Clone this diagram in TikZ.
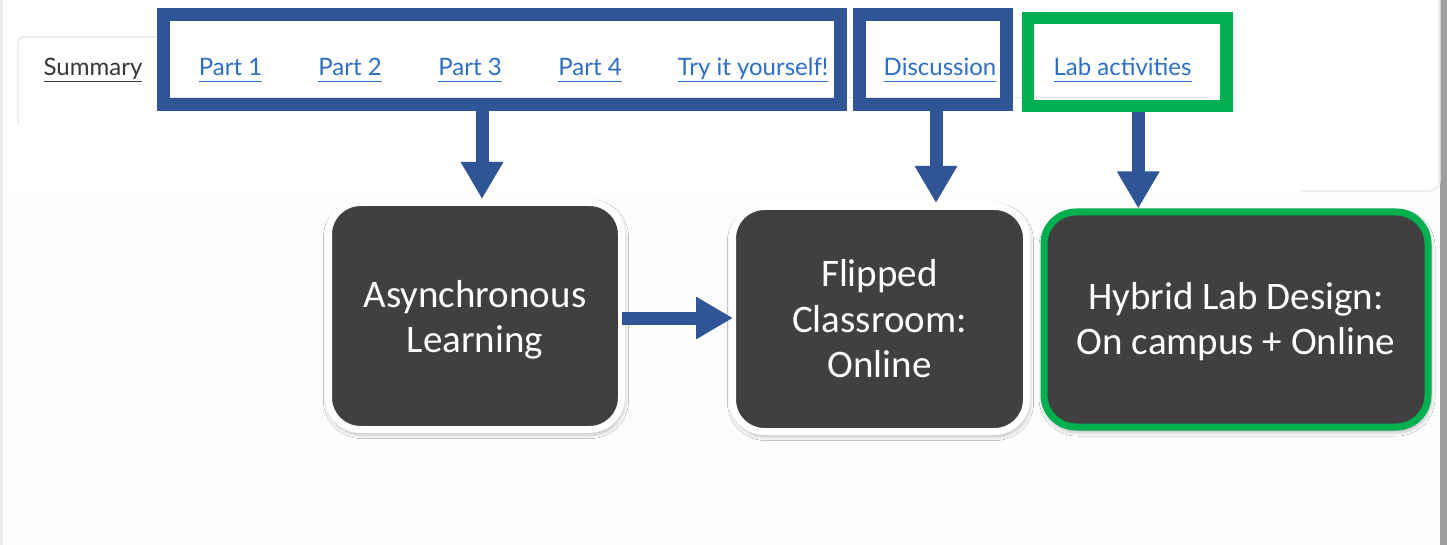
\documentclass[tikz,border=0pt]{standalone}
\usepackage{fontspec}
\setmainfont{Carlito}
\newfontfamily\latofont{Lato}
\usetikzlibrary{arrows.meta,calc,shadows.blur}
\definecolor{pblue}{RGB}{47,85,151}
\definecolor{pgreen}{RGB}{0,176,80}
\definecolor{boxdark}{RGB}{64,64,64}
\definecolor{linkblue}{RGB}{45,110,200}
\definecolor{tabgrey}{RGB}{226,229,232}
\tikzset{
  linkbox/.style={draw=pblue, line width=13pt, minimum width=#1, minimum height=89.5pt, inner sep=0pt},
  labbox/.style={draw=pgreen, line width=12.5pt, minimum width=#1, minimum height=88pt, inner sep=0pt},
  darkbox/.style={draw=white, fill=boxdark, line width=7pt, rounded corners=32pt, inner sep=0pt,
    blur shadow={shadow xshift=1pt, shadow yshift=-3pt, shadow blur radius=6pt, shadow blur steps=10, shadow opacity=45}},
  greenbox/.style={darkbox, draw=pgreen},
  boxtext/.style={text=white, align=center, font=\fontsize{39}{45.5}\selectfont, inner sep=0pt},
  arr/.style={draw=pblue, line width=13pt, -{Triangle[width=40pt,length=37pt]}},
  lnk/.style={anchor=base, text=linkblue, font=\latofont\fontsize{24}{28}\selectfont, inner sep=0pt},
}
\newcommand{\ul}[1]{\underline{\smash{#1}\vphantom{y}}}
\begin{document}
\begin{tikzpicture}[x=1pt,y=-1pt]
\useasboundingbox (0,0) rectangle (1447,545);
% page background
\fill[white!92!black] (0,0) rectangle (1447,545);
\fill[white!99.4!black] (3,0) rectangle (1440,545);
\fill[white!62!black] (1440,0) rectangle (1447,545);
% white card with soft edge at the right
\fill[white!94!black] (1300,0) -- (1440.5,0) -- (1440.5,182) arc[start angle=0, end angle=90, radius=10] -- (1300,192) -- cycle;
\fill[white] (8,-2) -- (1438,-2) -- (1438,180) arc[start angle=0, end angle=90, radius=10] -- (8,190) -- cycle;
% tab outline
\draw[tabgrey, line width=1.2pt, rounded corners=5pt] (18,124) -- (18,37) -- (160,37);
\draw[tabgrey, line width=1pt] (160,98) -- (1210,98);
% tab labels
\node[lnk, text=black!78] (summary) at (93,76) {\ul{Summary}};
\node[lnk] (p1) at (230.5,76) {\ul{Part 1}};
\node[lnk] (p2) at (350,76) {\ul{Part 2}};
\node[lnk] (p3) at (470,76) {\ul{Part 3}};
\node[lnk] (p4) at (590,76) {\ul{Part 4}};
\node[lnk] (try) at (753,76) {\ul{Try it yourself!}};
\node[lnk] (disc) at (940,76) {\ul{Discussion}};
\node[lnk] (lab) at (1122.5,76) {\ul{Lab activities}};
% highlight frames
\node[linkbox=676.5pt] (parts) at (501.75,59.75) {};
\node[linkbox=147pt] (discbox) at (932.5,59.75) {};
\node[labbox=198.5pt] (labbox) at (1127.25,62) {};
% dark boxes
\node[darkbox, minimum width=293pt, minimum height=227pt] (asyn) at (475,316) {};
\node[darkbox, minimum width=294pt, minimum height=225pt] (flip) at (879.5,319) {};
\node[greenbox, minimum width=384pt, minimum height=215pt] (hyb) at (1236,319.5) {};
\node[boxtext] (asyn-t) at ([yshift=-4pt]asyn.center) {Asynchronous\\Learning};
\node[boxtext] (flip-t) at (flip.center) {Flipped\\Classroom:\\Online};
\node[boxtext] (hyb-t) at ([yshift=-2pt]hyb.center) {Hybrid Lab Design:\\On campus + Online};
% arrows
\draw[arr] ([xshift=7pt]asyn.north |- parts.south) -- ([xshift=7pt]asyn.north);
\draw[arr] ([xshift=3.5pt]discbox.south) -- ([xshift=3.5pt]discbox.south |- flip.north);
\draw[arr] ([xshift=11pt]labbox.south) -- ([xshift=11pt]labbox.south |- hyb.north);
\draw[arr] ($(asyn.east)+(-3,2)$) -- ($(flip.west)+(4,-1)$);
\end{tikzpicture}
\end{document}
